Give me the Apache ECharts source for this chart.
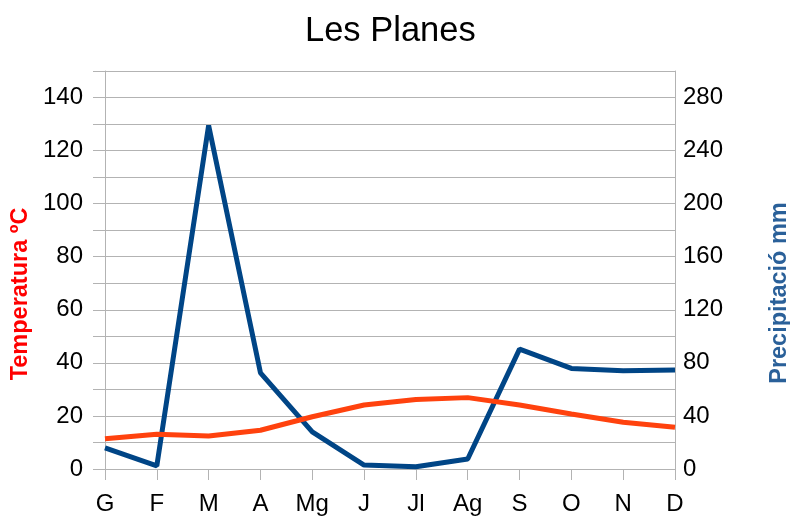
<!DOCTYPE html>
<html>
<head>
<meta charset="utf-8">
<script src="https://cdn.jsdelivr.net/npm/echarts@6/dist/echarts.min.js"></script>
<style>
  html, body { margin: 0; padding: 0; background: #fff; }
  #main { width: 790px; height: 516px; }
</style>
</head>
<body>
<div id="main"></div>
<script>
// mesos
var mesos = ['G', 'F', 'M', 'A', 'Mg', 'J', 'Jl', 'Ag', 'S', 'O', 'N', 'D'];
// temperatura (eix esquerre)
var temperatura = [11.4, 13.1, 12.4, 14.6, 19.7, 24.1, 26.2, 26.9, 24.1, 20.7, 17.6, 15.7];
// precipitació (eix dret)
var precipitacio = [16, 2.3, 259, 72.5, 28, 3, 1.7, 7.5, 90.4, 75.8, 74, 74.6];

var myChart = echarts.init(document.getElementById('main'));
var fontFam = '"Liberation Sans", Arial, sans-serif';

var option = {
  animation: false,
  title: {
    text: 'Les Planes',
    left: 300,
    top: 9,
    textStyle: { fontFamily: fontFam, fontSize: 34.5, fontWeight: 'normal', color: '#000' }
  },
  grid: { left: 105, right: 115, top: 71, bottom: 47, outerBoundsMode: 'none' },
  xAxis: {
    type: 'category',
    data: mesos,
    boundaryGap: false,
    axisLine: { lineStyle: { color: '#b3b3b3', width: 1 } },
    axisTick: { show: true, alignWithLabel: true, length: 11, lineStyle: { color: '#b3b3b3' } },
    axisLabel: { fontFamily: fontFam, fontSize: 24, color: '#000', margin: 23 },
    splitLine: { show: false }
  },
  yAxis: [
    {
      type: 'value',
      min: 0, max: 150, interval: 10,
      name: 'Temperatura ºC',
      nameLocation: 'middle',
      nameRotate: 90,
      nameGap: 72,
      nameTextStyle: { fontFamily: fontFam, fontSize: 23.5, fontWeight: 'bold', color: '#ff0000', padding: [0, 48, 0, 0] },
      axisLine: { show: true, lineStyle: { color: '#b3b3b3' } },
      axisTick: { show: true, length: 12, lineStyle: { color: '#b3b3b3' } },
      axisLabel: {
        fontFamily: fontFam, fontSize: 24, color: '#000', margin: 22,
        formatter: function (v) { return v % 20 === 0 && v <= 140 ? String(v) : ''; }
      },
      splitLine: { show: true, lineStyle: { color: '#b3b3b3' } }
    },
    {
      type: 'value',
      min: 0, max: 300, interval: 20,
      name: 'Precipitació mm',
      nameLocation: 'middle',
      nameRotate: 90,
      nameGap: 93,
      nameTextStyle: { fontFamily: fontFam, fontSize: 23.5, fontWeight: 'bold', color: '#2a6099', padding: [0, 46, 0, 0] },
      axisLine: { show: true, lineStyle: { color: '#b3b3b3' } },
      axisTick: { show: false },
      axisLabel: {
        fontFamily: fontFam, fontSize: 24, color: '#000', margin: 8,
        formatter: function (v) { return v % 40 === 0 && v <= 280 ? String(v) : ''; }
      },
      splitLine: { show: false }
    }
  ],
  series: [
    {
      name: 'Precipitació',
      type: 'line',
      yAxisIndex: 1,
      data: precipitacio,
      showSymbol: false,
      lineStyle: { color: '#004586', width: 5 },
      itemStyle: { color: '#004586' }
    },
    {
      name: 'Temperatura',
      type: 'line',
      yAxisIndex: 0,
      data: temperatura,
      showSymbol: false,
      lineStyle: { color: '#ff420e', width: 5 },
      itemStyle: { color: '#ff420e' }
    }
  ]
};
myChart.setOption(option);
</script>
</body>
</html>
